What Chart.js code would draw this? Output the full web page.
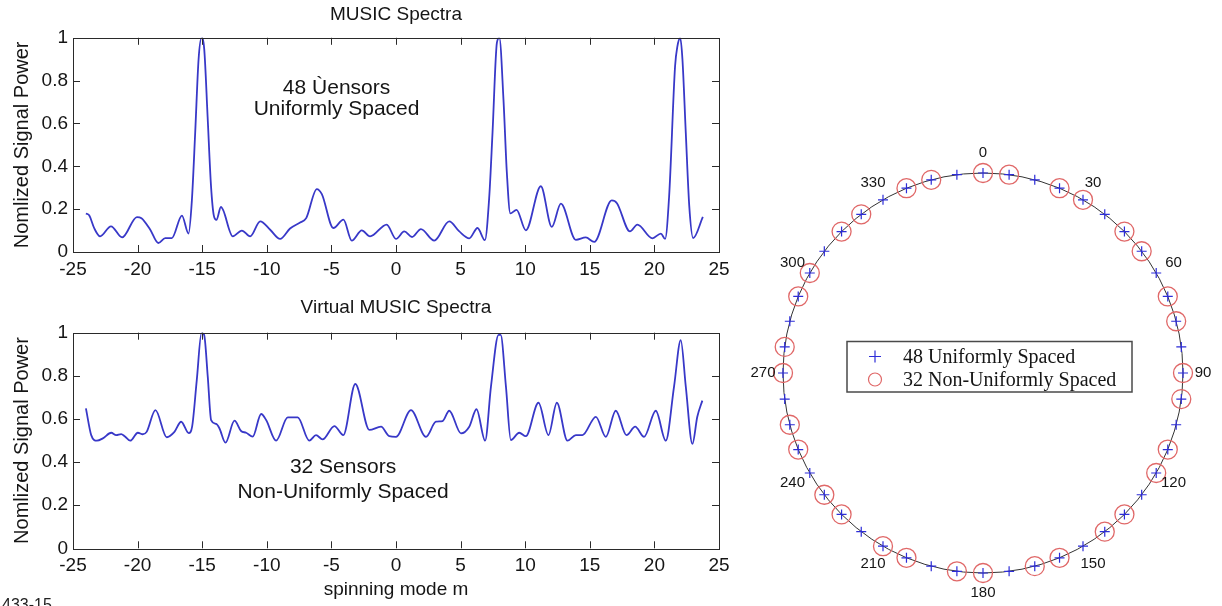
<!DOCTYPE html>
<html>
<head>
<meta charset="utf-8">
<script src="https://cdn.jsdelivr.net/npm/chart.js@4.4.0/dist/chart.umd.min.js"></script>
<style>
  html, body { margin: 0; padding: 0; background: #fff; width: 1222px; height: 606px; overflow: hidden; }
  .panel { position: absolute; }
  #figNo { position: absolute; left: 2px; top: 597px; font: 16px/16px "Liberation Sans", Arial, sans-serif; color: #222; }
</style>
</head>
<body>
<div class="panel" style="left:0;top:0;width:740px;height:290px"><canvas id="music" width="740" height="290"></canvas></div>
<div class="panel" style="left:0;top:290px;width:740px;height:316px"><canvas id="virtual" width="740" height="316"></canvas></div>
<div class="panel" style="left:743px;top:133px;width:480px;height:480px"><canvas id="ring" width="480" height="480"></canvas></div>
<div id="figNo">433-15</div>

<script>
// ---- MUSIC spectrum, 48 uniformly spaced sensors ----
const musicModes = [
  -24.0, -23.75, -23.35, -22.9, -22.06, -21.2, -20.05, -19.7, -19.02, -18.4,
  -17.86, -17.35, -16.57, -16.06, -15.8, -15.54, -15.28, -15.05, -14.84, -14.58,
  -14.32, -14.1, -13.9, -13.55, -12.63, -11.93, -11.29, -10.51, -9.74, -8.97,
  -8.2, -7.42, -6.95, -6.13, -5.74, -4.85, -4.07, -3.42, -2.65, -2.01,
  -0.72, 0.0, 0.64, 1.24, 1.93, 2.96, 4.12, 4.9, 5.67, 6.31,
  6.88, 7.22, 7.47, 7.81, 8.0, 8.32, 8.58, 8.85, 9.33, 10.05,
  11.21, 12.06, 12.76, 13.92, 14.69, 15.34, 16.7, 17.1, 18.11, 18.68,
  19.85, 20.5, 20.83, 21.14, 21.6, 21.78, 22.0, 22.17, 22.43, 22.7,
  23.0, 23.75
];
const musicPower = [
  0.18, 0.172, 0.11, 0.073, 0.12, 0.068, 0.163, 0.158, 0.104, 0.042,
  0.065, 0.065, 0.17, 0.086, 0.24, 0.56, 0.9, 1.0, 0.945, 0.63,
  0.31, 0.17, 0.15, 0.21, 0.073, 0.1, 0.073, 0.143, 0.104, 0.061,
  0.11, 0.138, 0.158, 0.294, 0.27, 0.112, 0.151, 0.053, 0.101, 0.073,
  0.128, 0.061, 0.096, 0.07, 0.107, 0.053, 0.143, 0.096, 0.064, 0.112,
  0.055, 0.26, 0.556, 0.977, 1.0, 0.71, 0.37, 0.18, 0.197, 0.101,
  0.307, 0.117, 0.226, 0.057, 0.068, 0.047, 0.241, 0.228, 0.096, 0.128,
  0.064, 0.086, 0.061, 0.26, 0.867, 0.96, 1.0, 0.9, 0.556, 0.213,
  0.065, 0.164
];

// ---- Virtual MUSIC spectrum, 32 non-uniformly spaced sensors ----
const virtualModes = [
  -24.0, -23.59, -23.15, -22.69, -22.04, -21.66, -21.27, -21.0, -20.57, -19.98,
  -19.6, -19.3, -18.62, -17.74, -17.15, -16.63, -16.04, -15.78, -15.42, -15.05,
  -14.85, -14.57, -14.31, -13.92, -13.67, -13.2, -12.5, -11.99, -11.6, -11.09,
  -10.44, -10.05, -9.28, -8.38, -7.61, -6.71, -6.19, -5.68, -4.77, -4.08,
  -3.15, -2.06, -1.16, -0.52, 0.0, 1.16, 2.32, 3.09, 3.6, 4.12,
  5.03, 5.67, 6.23, 6.9, 7.35, 7.94, 8.1, 8.51, 8.89, 9.54,
  10.05, 11.03, 11.8, 12.45, 13.27, 13.92, 14.43, 15.47, 16.24, 17.01,
  17.84, 18.51, 19.2, 20.11, 20.88, 21.52, 22.04, 22.43, 22.94, 23.32,
  23.71
];
const virtualPower = [
  0.649, 0.525, 0.499, 0.51, 0.536, 0.525, 0.53, 0.52, 0.499, 0.536,
  0.529, 0.54, 0.641, 0.515, 0.54, 0.587, 0.534, 0.564, 0.78, 1.0,
  0.99, 0.796, 0.595, 0.577, 0.557, 0.49, 0.592, 0.544, 0.536, 0.518,
  0.623, 0.595, 0.499, 0.607, 0.607, 0.499, 0.525, 0.505, 0.567, 0.525,
  0.762, 0.549, 0.564, 0.52, 0.517, 0.641, 0.517, 0.587, 0.59, 0.638,
  0.533, 0.564, 0.645, 0.499, 0.75, 0.99, 0.99, 0.75, 0.502, 0.536,
  0.52, 0.675, 0.525, 0.675, 0.499, 0.525, 0.525, 0.61, 0.517, 0.638,
  0.525, 0.564, 0.517, 0.638, 0.499, 0.75, 0.966, 0.75, 0.484, 0.61,
  0.685
];

// ---- Sensor ring: angular positions in degrees ----
const sensorAngles = [
  0, 7.5, 15, 22.5, 30, 37.5, 45, 52.5, 60, 67.5, 75, 82.5,
  90, 97.5, 105, 112.5, 120, 127.5, 135, 142.5, 150, 157.5, 165, 172.5,
  180, 187.5, 195, 202.5, 210, 217.5, 225, 232.5, 240, 247.5, 255, 262.5,
  270, 277.5, 285, 292.5, 300, 307.5, 315, 322.5, 330, 337.5, 345, 352.5
];
const nonUniformAngles = [
  0, 7.5, 22.5, 30, 45, 52.5, 67.5, 75, 90, 97.5, 112.5, 120,
  135, 142.5, 157.5, 165, 180, 187.5, 202.5, 210, 225, 232.5, 247.5, 255,
  270, 277.5, 292.5, 300, 315, 322.5, 337.5, 345
];
const angleTicks = [0, 30, 60, 90, 120, 150, 180, 210, 240, 270, 300, 330];
const ringRadius = 1;

const SANS = '"Liberation Sans", Arial, Helvetica, sans-serif';
const SERIF = '"Liberation Serif", "Times New Roman", serif';
const INK = '#151515';
const CURVE = '#3838c8';

// Closed axes box with inward tick marks on all four sides
const framePlugin = {
  id: 'frame',
  afterDraw(chart) {
    const { ctx, chartArea: a, scales: { x, y } } = chart;
    const L = 7;
    ctx.save();
    ctx.strokeStyle = '#2a2a2a';
    ctx.lineWidth = 1;
    ctx.strokeRect(Math.round(a.left) + 0.5, Math.round(a.top) + 0.5,
                   Math.round(a.right - a.left), Math.round(a.bottom - a.top));
    ctx.beginPath();
    x.ticks.forEach(t => {
      if (t.value === x.min || t.value === x.max) return;
      const px = Math.round(x.getPixelForValue(t.value)) + 0.5;
      ctx.moveTo(px, a.bottom); ctx.lineTo(px, a.bottom - L);
      ctx.moveTo(px, a.top); ctx.lineTo(px, a.top + L);
    });
    y.ticks.forEach(t => {
      if (t.value === y.min || t.value === y.max) return;
      const py = Math.round(y.getPixelForValue(t.value)) + 0.5;
      ctx.moveTo(a.left, py); ctx.lineTo(a.left + L, py);
      ctx.moveTo(a.right, py); ctx.lineTo(a.right - L, py);
    });
    ctx.stroke();
    ctx.restore();
  }
};

// Two-line caption placed in data coordinates
const notePlugin = {
  id: 'note',
  afterDraw(chart, args, opts) {
    if (!opts || !opts.lines) return;
    const { ctx, scales: { x, y } } = chart;
    ctx.save();
    ctx.font = '21px ' + SANS;
    ctx.fillStyle = INK;
    ctx.textAlign = 'center';
    ctx.textBaseline = 'middle';
    opts.lines.forEach((line, i) => {
      ctx.fillText(line, x.getPixelForValue(opts.x), y.getPixelForValue(opts.y[i]));
    });
    ctx.restore();
  }
};

function spectrumChart(id, title, modes, power, cfg) {
  const tickFont = { family: SANS, size: 19 };
  return new Chart(document.getElementById(id), {
    type: 'line',
    data: {
      datasets: [{
        data: modes.map((m, i) => ({ x: m, y: power[i] })),
        borderColor: CURVE,
        borderWidth: 1.8,
        pointRadius: 0,
        cubicInterpolationMode: 'monotone',
        fill: false
      }]
    },
    options: {
      responsive: false,
      animation: false,
      events: [],
      layout: { padding: { left: 0, right: 21, top: 0, bottom: 0 } },
      plugins: {
        legend: { display: false },
        tooltip: { enabled: false },
        title: {
          display: true, text: title, color: INK, fullSize: false,
          font: { family: SANS, size: 19, weight: 'normal' },
          padding: cfg.titlePad
        },
        note: cfg.note
      },
      scales: {
        x: {
          type: 'linear', min: -25, max: 25,
          grid: { display: false, drawTicks: false },
          border: { display: false },
          ticks: { stepSize: 5, color: INK, font: tickFont, padding: 6, maxRotation: 0, callback: v => String(v) },
          title: cfg.xTitle
            ? { display: true, text: cfg.xTitle, color: INK, font: { family: SANS, size: 19 }, padding: { top: 0, bottom: cfg.xTitlePad } }
            : { display: false },
          afterFit: s => { s.height = cfg.xHeight; }
        },
        y: {
          min: 0, max: 1,
          grid: { display: false, drawTicks: false },
          border: { display: false },
          ticks: { stepSize: 0.2, color: INK, font: tickFont, padding: 5, callback: v => String(+v.toFixed(1)) },
          title: { display: true, text: 'Nomlized Signal Power', color: INK, font: { family: SANS, size: 20 }, padding: { top: 10, bottom: 0 } },
          afterFit: s => { s.width = 73; }
        }
      }
    },
    plugins: [framePlugin, notePlugin]
  });
}

spectrumChart('music', 'MUSIC Spectra', musicModes, musicPower, {
  titlePad: { top: 3, bottom: 12 },
  xHeight: 38,
  note: { lines: ['48 Ùensors', 'Uniformly Spaced'], x: -4.6, y: [0.763, 0.665] }
});

spectrumChart('virtual', 'Virtual MUSIC Spectra', virtualModes, virtualPower, {
  titlePad: { top: 6.6, bottom: 13.3 },
  xHeight: 57.7,
  xTitle: 'spinning mode m',
  xTitlePad: 4.6,
  note: { lines: ['32 Sensors', 'Non-Uniformly Spaced'], x: -4.1, y: [0.375, 0.259] }
});

// Degree labels around the ring
const angleLabelPlugin = {
  id: 'angleLabels',
  afterDraw(chart) {
    const r = chart.scales.r;
    const ctx = chart.ctx;
    const dist = r.getDistanceFromCenterForValue(1.1);
    ctx.save();
    ctx.font = '15px ' + SANS;
    ctx.fillStyle = INK;
    ctx.textAlign = 'center';
    ctx.textBaseline = 'middle';
    angleTicks.forEach(a => {
      const p = r.getPointPosition(sensorAngles.indexOf(a), dist);
      ctx.fillText(String(a), p.x, p.y);
    });
    ctx.restore();
  }
};

// Boxed legend in the middle of the ring
const ringLegendPlugin = {
  id: 'ringLegend',
  afterDraw(chart) {
    const r = chart.scales.r;
    const ctx = chart.ctx;
    const cx = r.xCenter, cy = r.yCenter;
    const sets = chart.data.datasets;
    ctx.save();
    ctx.fillStyle = '#fff';
    ctx.fillRect(cx - 136, cy - 31.5, 285, 50.5);
    ctx.strokeStyle = '#4a4a4a';
    ctx.lineWidth = 1.5;
    ctx.strokeRect(cx - 136, cy - 31.5, 285, 50.5);

    const mx = cx - 108;
    const row1 = cy - 16.5, row2 = cy + 6.5;
    ctx.lineWidth = 1.2;
    ctx.strokeStyle = sets[0].pointBorderColor;
    ctx.beginPath();
    ctx.moveTo(mx - 6, row1); ctx.lineTo(mx + 6, row1);
    ctx.moveTo(mx, row1 - 6); ctx.lineTo(mx, row1 + 6);
    ctx.stroke();
    ctx.strokeStyle = sets[1].pointBorderColor;
    ctx.beginPath();
    ctx.arc(mx, row2, 6.5, 0, Math.PI * 2);
    ctx.stroke();

    ctx.fillStyle = INK;
    ctx.font = '20px ' + SERIF;
    ctx.textAlign = 'left';
    ctx.textBaseline = 'middle';
    ctx.fillText(sets[0].label, cx - 80, row1 + 1);
    ctx.fillText(sets[1].label, cx - 80, row2 + 1);
    ctx.restore();
  }
};

new Chart(document.getElementById('ring'), {
  type: 'radar',
  data: {
    labels: sensorAngles.map(String),
    datasets: [
      {
        label: '48 Uniformly Spaced',
        data: sensorAngles.map(() => ringRadius),
        showLine: false,
        pointStyle: 'cross',
        pointRadius: 5,
        pointBorderColor: '#2d2dd8',
        pointBorderWidth: 1.2,
        borderColor: 'rgba(0,0,0,0)',
        backgroundColor: 'rgba(0,0,0,0)'
      },
      {
        label: '32 Non-Uniformly Spaced',
        data: sensorAngles.map(a => nonUniformAngles.includes(a) ? ringRadius : null),
        showLine: false,
        pointStyle: 'circle',
        pointRadius: 9.5,
        pointBorderColor: '#e06868',
        pointBorderWidth: 1.3,
        pointBackgroundColor: 'rgba(0,0,0,0)',
        borderColor: 'rgba(0,0,0,0)',
        backgroundColor: 'rgba(0,0,0,0)'
      }
    ]
  },
  options: {
    responsive: false,
    animation: false,
    events: [],
    layout: { padding: 40 },
    plugins: { legend: { display: false }, tooltip: { enabled: false } },
    scales: {
      r: {
        min: 0, max: 1,
        ticks: { display: false, stepSize: 1 },
        angleLines: { display: false },
        grid: { circular: true, color: '#333', lineWidth: 1 },
        pointLabels: { display: false }
      }
    }
  },
  plugins: [angleLabelPlugin, ringLegendPlugin]
});
</script>
</body>
</html>
